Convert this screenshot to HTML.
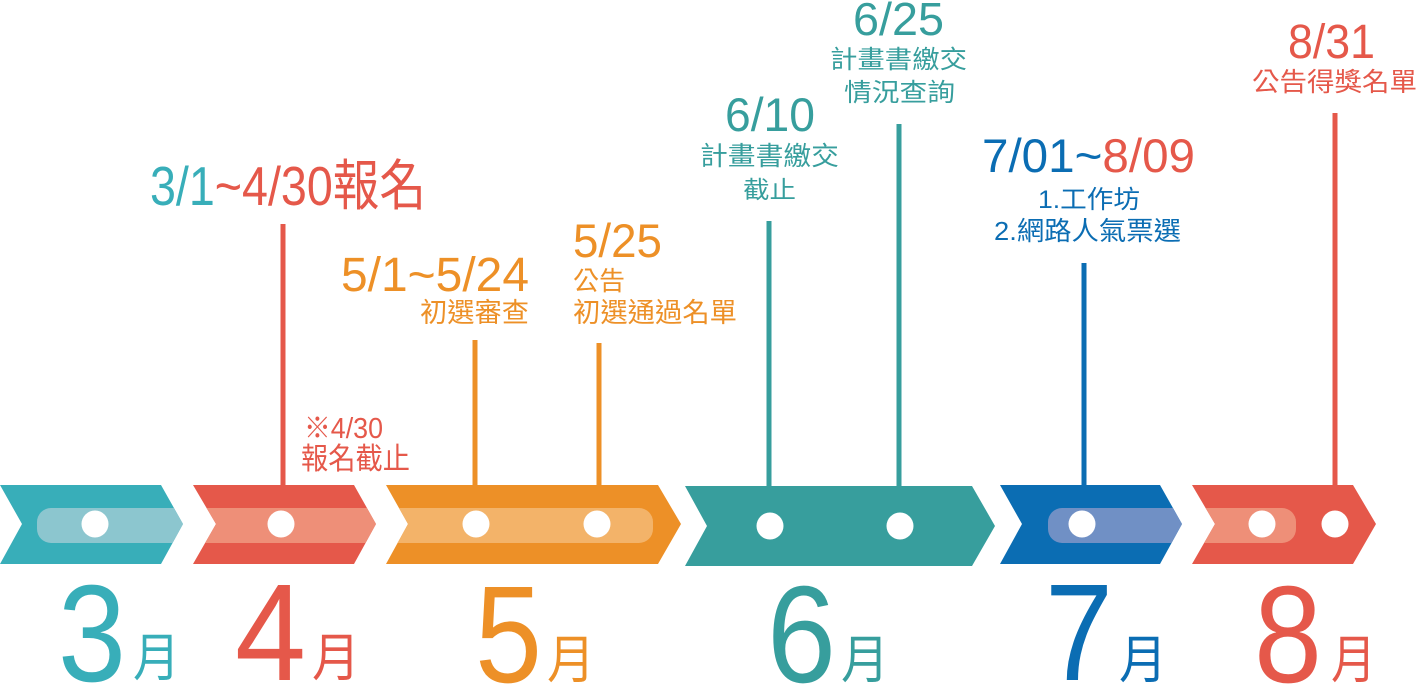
<!DOCTYPE html>
<html><head><meta charset="utf-8"><style>
html,body{margin:0;padding:0;background:#fff;}
svg{display:block;}
text{font-family:"Liberation Sans","Noto Sans CJK TC",sans-serif;}
</style></head><body>
<svg width="1417" height="684" viewBox="0 0 1417 684" xmlns="http://www.w3.org/2000/svg">
<defs>
<clipPath id="c1"><polygon points="0,485 161,485 183,524 161,564 0,564 22,524"/></clipPath>
<clipPath id="c2"><polygon points="193,485 354,485 376,524 354,564 193,564 216,524"/></clipPath>
<clipPath id="c3"><polygon points="386,485 658,485 681,524 658,564 386,564 408,524"/></clipPath>
<clipPath id="c5"><polygon points="1000,485 1160,485 1182,524 1160,564 1000,564 1022,524"/></clipPath>
<clipPath id="c6"><polygon points="1192,485 1353,485 1376,524 1353,564 1192,564 1215,524"/></clipPath>
</defs>
<!-- vertical lines -->
<g stroke-width="5">
<line x1="283" y1="224" x2="283" y2="487" stroke="#e5584a"/>
<line x1="475" y1="340" x2="475" y2="487" stroke="#ed9027"/>
<line x1="599" y1="343" x2="599" y2="487" stroke="#ed9027"/>
<line x1="769" y1="221" x2="769" y2="488" stroke="#379e9d"/>
<line x1="899" y1="124" x2="899" y2="488" stroke="#379e9d"/>
<line x1="1084" y1="263" x2="1084" y2="487" stroke="#0b6db3"/>
<line x1="1335" y1="113" x2="1335" y2="487" stroke="#e5584a"/>
</g>
<!-- chevrons -->
<polygon points="0,485 161,485 183,524 161,564 0,564 22,524" fill="#38aeb9"/>
<rect x="37" y="508" width="160" height="35" rx="14" fill="#8cc6cf" clip-path="url(#c1)"/>
<polygon points="193,485 354,485 376,524 354,564 193,564 216,524" fill="#e5584a"/>
<rect x="150" y="508" width="260" height="35" fill="#ee8f78" clip-path="url(#c2)"/>
<polygon points="386,485 658,485 681,524 658,564 386,564 408,524" fill="#ed9027"/>
<rect x="340" y="508" width="313" height="35" rx="14" fill="#f3b369" clip-path="url(#c3)"/>
<polygon points="685,486 972,486 995,526 972,566 685,566 707,526" fill="#379e9d"/>
<polygon points="1000,485 1160,485 1182,524 1160,564 1000,564 1022,524" fill="#0b6db3"/>
<rect x="1048" y="508" width="160" height="35" rx="14" fill="#7090c5" clip-path="url(#c5)"/>
<polygon points="1192,485 1353,485 1376,524 1353,564 1192,564 1215,524" fill="#e5584a"/>
<rect x="1150" y="508" width="146" height="35" rx="14" fill="#ee8f78" clip-path="url(#c6)"/>
<!-- circles -->
<g fill="#fff">
<circle cx="95" cy="524" r="13.5"/>
<circle cx="281" cy="524" r="13.5"/>
<circle cx="476" cy="524" r="13.5"/>
<circle cx="597" cy="524" r="13.5"/>
<circle cx="770" cy="526" r="13.5"/>
<circle cx="900" cy="526" r="13.5"/>
<circle cx="1082" cy="524" r="13.5"/>
<circle cx="1262" cy="524" r="13.5"/>
<circle cx="1335" cy="524" r="13.5"/>
</g>
<!-- labels -->
<text x="150" y="205" font-size="55" textLength="276" lengthAdjust="spacingAndGlyphs" fill="#e5584a"><tspan fill="#38aeb9">3/1</tspan>~4/30報名</text>
<text x="304" y="438" font-size="29" textLength="79" lengthAdjust="spacingAndGlyphs" fill="#e5584a">※4/30</text>
<text x="301" y="469" font-size="30" textLength="109" lengthAdjust="spacingAndGlyphs" fill="#e5584a">報名截止</text>
<text x="341" y="291" font-size="48" textLength="188" lengthAdjust="spacingAndGlyphs" fill="#ed9027">5/1~5/24</text>
<text x="420" y="322" font-size="27" textLength="109" lengthAdjust="spacingAndGlyphs" fill="#ed9027">初選審查</text>
<text x="573" y="257" font-size="47" textLength="89" lengthAdjust="spacingAndGlyphs" fill="#ed9027">5/25</text>
<text x="573" y="290" font-size="26" textLength="52" lengthAdjust="spacingAndGlyphs" fill="#ed9027">公告</text>
<text x="573" y="322" font-size="27" textLength="164" lengthAdjust="spacingAndGlyphs" fill="#ed9027">初選通過名單</text>
<text x="853" y="35" font-size="46" textLength="91" lengthAdjust="spacingAndGlyphs" fill="#379e9d">6/25</text>
<text x="830" y="68" font-size="25" textLength="137" lengthAdjust="spacingAndGlyphs" fill="#379e9d">計畫書繳交</text>
<text x="844" y="101" font-size="25" textLength="111" lengthAdjust="spacingAndGlyphs" fill="#379e9d">情況查詢</text>
<text x="725" y="131" font-size="47" textLength="90" lengthAdjust="spacingAndGlyphs" fill="#379e9d">6/10</text>
<text x="700" y="165" font-size="26" textLength="139" lengthAdjust="spacingAndGlyphs" fill="#379e9d">計畫書繳交</text>
<text x="743" y="198" font-size="24" textLength="53" lengthAdjust="spacingAndGlyphs" fill="#379e9d">截止</text>
<text x="982" y="172" font-size="47" textLength="213" lengthAdjust="spacingAndGlyphs" fill="#0b6db3">7/01~<tspan fill="#e5584a">8/09</tspan></text>
<text x="1038" y="208" font-size="25" textLength="102" lengthAdjust="spacingAndGlyphs" fill="#0b6db3">1.工作坊</text>
<text x="994" y="240" font-size="26" textLength="187" lengthAdjust="spacingAndGlyphs" fill="#0b6db3">2.網路人氣票選</text>
<text x="1288" y="58" font-size="48" textLength="87" lengthAdjust="spacingAndGlyphs" fill="#e5584a">8/31</text>
<text x="1252" y="91" font-size="26" textLength="165" lengthAdjust="spacingAndGlyphs" fill="#e5584a">公告得獎名單</text>
<!-- months -->
<g font-size="138">
<text x="58" y="681" textLength="68" lengthAdjust="spacingAndGlyphs" fill="#38aeb9">3</text>
<text x="235" y="680" textLength="71" lengthAdjust="spacingAndGlyphs" fill="#e5584a">4</text>
<text x="475" y="682" textLength="67" lengthAdjust="spacingAndGlyphs" fill="#ed9027">5</text>
<text x="767" y="682" textLength="69" lengthAdjust="spacingAndGlyphs" fill="#379e9d">6</text>
<text x="1045" y="680" textLength="68" lengthAdjust="spacingAndGlyphs" fill="#0b6db3">7</text>
<text x="1254" y="682" textLength="68" lengthAdjust="spacingAndGlyphs" fill="#e5584a">8</text>
</g>
<g font-size="52">
<text x="133" y="676" textLength="47" lengthAdjust="spacingAndGlyphs" fill="#38aeb9">月</text>
<text x="312" y="676" textLength="48" lengthAdjust="spacingAndGlyphs" fill="#e5584a">月</text>
<text x="547" y="678" textLength="48" lengthAdjust="spacingAndGlyphs" fill="#ed9027">月</text>
<text x="841" y="678" textLength="48" lengthAdjust="spacingAndGlyphs" fill="#379e9d">月</text>
<text x="1119" y="678" textLength="48" lengthAdjust="spacingAndGlyphs" fill="#0b6db3">月</text>
<text x="1331" y="678" textLength="45" lengthAdjust="spacingAndGlyphs" fill="#e5584a">月</text>
</g>
</svg>
</body></html>
